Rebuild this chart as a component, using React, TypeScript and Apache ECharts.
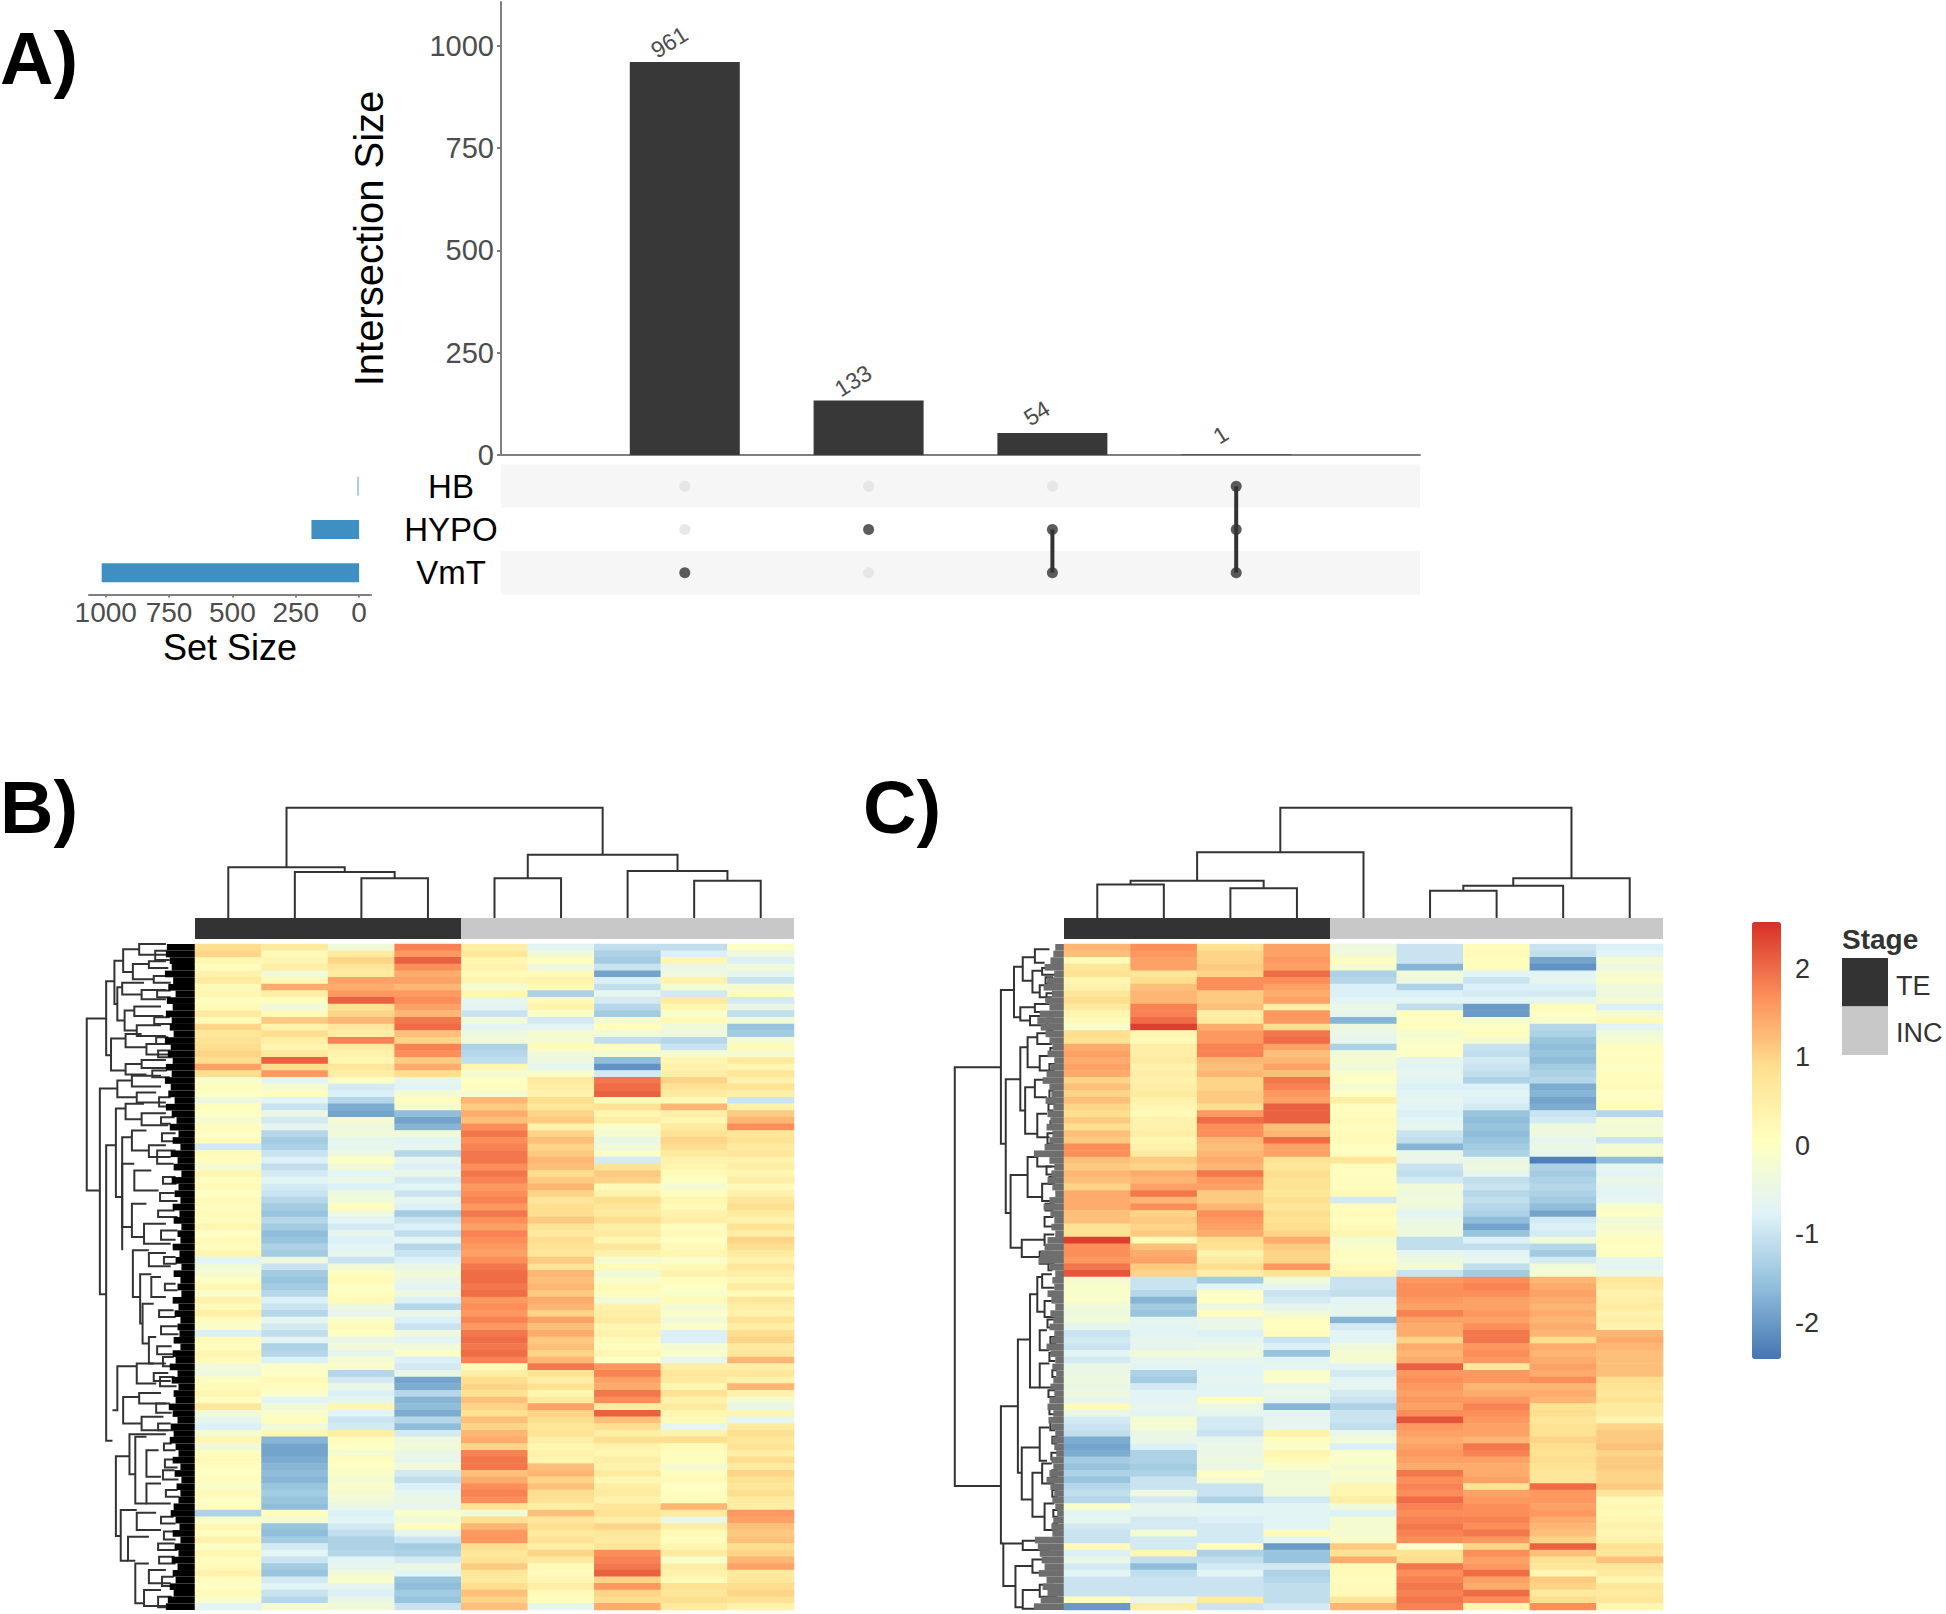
import React, { useEffect, useRef } from "react";
import * as echarts from "echarts";

const FONT = "'Liberation Sans', Arial, sans-serif";

// ---------- Panel A: intersections ----------
const intersectionPos = [1, 2, 3, 4];
const intersectionSizes = [961, 133, 54, 1];
const setNames = ["HB", "HYPO", "VmT"];
const setSizes = [1, 188, 1016];
const memberHB = [0, 0, 0, 1];
const memberHYPO = [0, 1, 1, 1];
const memberVmT = [1, 0, 1, 1];
const intersectionTicks = [0, 250, 500, 750, 1000];
const setTicks = [0, 250, 500, 750, 1000];

// ---------- Heatmap palette + legend ----------
const palette = ["#4575B4", "#91BFDB", "#E0F3F8", "#FFFFBF", "#FEE090", "#FC8D59", "#D73027"];
const colorTicks = [-2, -1, 0, 1, 2];
const stageNames = ["TE", "INC"];
const stageColors = ["#333333", "#c8c8c8"];
const stageCounts = [4, 5];

// ---------- Panel B columns (100 rows, top to bottom) ----------
const b0 = [.9,1,.3,.1,.4,.6,.2,.3,.1,.2,
.6,.2,1,.7,.8,.9,1,.9,1.5,.9,
-.1,.1,0,-.4,.1,0,-.2,.1,0,.2,
-.9,.2,.1,-.2,.3,.1,.2,0,.2,.1,
.2,.1,.3,0,.2,.1,.3,-.7,-.3,-.2,
0,.3,-.1,.4,.2,.5,.1,-.1,-.8,.2,
.1,.3,.2,-.3,-.4,.1,.2,.3,.1,.7,
-.3,-.6,-.8,-.2,.3,-.3,.1,.2,.1,0,
.1,-.1,.2,0,.1,-1.3,-.1,.3,.1,.4,
0,.3,.1,.2,.4,.1,0,.2,-.1,-.7];
const b1 = [.6,.2,.3,.5,-.3,.2,1.4,.5,.1,-.3,
.2,1.1,.4,.9,.5,.3,.6,2.1,.9,1.6,
-.7,-.2,.1,-.7,-1,-.5,-.9,-.6,-1.2,-1.4,
-1.3,-1,-.8,-1.1,-.9,-.7,-.9,-1,-1.2,-1.4,
-1.5,-1.2,-1.4,-1.6,-1.5,-1.3,-1.4,-.4,-1,-1.4,
-1.5,-1.4,-1.2,-.8,-1,-1.2,-.6,-.9,-1.1,-.7,
-1.3,-1.2,-.8,-.1,0,.2,.1,-.1,-.7,-.3,
-.1,.1,-.3,.3,-1.7,-1.9,-1.9,-1.8,-1.7,-1.6,
-1.7,-1.5,-1.4,-1.5,-1.6,.1,-.2,-1.5,-1.6,-1.4,
-.9,-.7,-1,-1.4,-1.5,-.9,-.7,-1,-1.2,-.2];
const b2 = [-.3,.6,1,.7,.6,1.5,1.4,1.6,2.1,.8,
1,1.3,.7,.5,1.8,.6,.4,.3,.7,.5,
0,-.9,-.8,-1.2,-1.8,-1.9,-.2,-.4,-.3,-.6,
-.6,-.4,0,-.3,-.7,-.5,-.8,-.4,-.3,.1,
-.4,-.7,-.9,-.6,-.8,-.7,-.6,-1,-.3,.1,
.2,0,.1,.2,-.4,-.6,-.1,.2,0,-.5,
-.3,-.6,-.2,-.1,-1.2,-.9,-.5,-.8,-.6,.3,
-.7,-1,-.9,.5,.1,0,-.2,.1,0,-.1,
-.2,-.1,-.2,-.3,-.5,-.8,-.7,-.9,-1.1,-1.3,
-1.3,-1.2,-.7,-.6,-.3,-.1,-.6,-.8,-.5,-.3];
const b3 = [1.8,1.6,2.1,1.7,1.4,1.5,1.3,1.6,1.7,1.5,
1.3,1.9,2,1.2,1,1.8,1.7,1.1,1.4,.9,
-.6,-.7,-.2,.1,-.2,-1.6,-1.9,-1.7,-.3,-.7,
-.6,-1.2,-.6,-.8,-.5,-.9,-.7,-1,-.6,-.8,
-1.4,-1,-.8,-1.1,-.7,-1.2,-1,-.8,-.5,-.3,
-.5,-.7,-.4,-.8,-1.2,-.5,-.8,-1,-.4,-.7,
-.3,-.1,-.8,-.9,-.5,-1.9,-1.8,-1.2,-1.7,-1.6,
-1.8,-1.2,-1.6,-.9,-.4,-.3,-.5,-.6,-.3,-.9,
-1.1,-.8,-.6,-.5,-.6,-.1,-.3,.1,-.6,-1,
-1.4,-1.3,-.9,-.5,-.7,-1.5,-1.6,-1.4,-1.5,-1];
const b4 = [.5,.7,.3,.4,.2,.3,-.2,.3,-.6,-.7,
-1,-.3,-.7,-.4,-.3,-1.3,-1.2,-1.1,.3,-.2,
0,.1,-.2,1.3,1.1,1.4,1.2,1.7,1.9,1.7,
1.8,1.9,1.9,1.7,1.9,1.8,1.6,1.7,1.8,1.6,
1.9,1.7,1.5,1.8,1.7,1.6,1.5,1.7,1.9,2,
2,1.9,2,1.6,1.7,1.6,1.8,1.6,1.9,2,
1.9,2,1.8,.2,.5,.9,1,.8,1.2,1,
.8,1.2,1,1.3,1.4,1,1.8,1.9,1.9,1.2,
1.4,1.7,1.8,1.7,.8,-.3,.9,1.3,1.6,1.6,
.9,.7,.8,1.1,.7,.6,.9,1.2,1,1.2];
const b5 = [-.7,-.3,.1,-.4,.2,.4,.2,-1.3,.2,.4,
-.1,-.9,-.7,-.2,-.2,.2,-.3,-.4,-.6,-.1,
.6,.5,.4,.9,.7,1,1.1,.4,1,1.2,
1,1.1,1.3,1.2,.9,1.1,1.3,1,.7,.9,
.9,1.1,.8,.6,.9,.8,.7,1.1,.8,1.3,
1.2,1.3,1.1,1.4,1.3,1,1.5,1.2,1.4,1.1,
1.2,1,1.3,1.9,.8,.5,.8,.3,.6,1.5,
1,.9,.7,.8,.5,.3,.4,.3,1.2,1.3,
1,1.2,.9,.8,.5,1.2,.7,.9,.6,.8,
.5,1,.6,.2,.1,.3,.5,.2,.1,-.6];
const b6 = [-1.1,-1.3,-1.4,-1,-1.9,-.8,-1.1,-.6,-.9,-1.2,
-1.4,-.2,.1,-.3,-1.1,.1,-.2,-1.6,-2.1,-.9,
1.9,2,2.1,.2,.8,.3,.5,-.1,-.2,-.5,
-.3,-.1,-.9,.8,1.1,1,.2,.4,.9,.7,
.6,.9,.5,.6,.3,.7,.4,-.2,.2,-.3,
-.1,.2,.1,-.3,.4,.5,.6,.3,.4,.2,
.1,.3,0,1.6,1.8,1.5,1.4,1.9,1.7,.6,
2.1,1.2,.9,.5,.9,.4,.3,.5,.4,.6,
.3,.5,.6,.4,.7,.8,.5,1,.7,.6,
.7,1.7,1.8,1.9,2.1,1,1.6,1,.9,1.4];
const b7 = [-1.1,-.8,.3,-.5,-.4,.4,-.2,-.9,.6,.3,
-.1,.2,-.3,-.4,-1.2,-1,-.2,.3,.4,.5,
1,.8,.6,.2,1.3,.5,.3,.6,.8,1,
.9,.6,.4,.3,.2,0,-.2,.1,.3,.2,
.4,.5,.1,.2,0,.2,.3,-.1,.2,.4,
.1,0,-.1,.2,-.2,-.1,-.3,-.1,-.8,-.8,
-.2,-.1,-.6,.5,.7,.6,.3,.8,.4,.6,
.3,.2,-.6,.4,.9,.2,.1,.1,-.2,.1,
.2,0,.1,.1,1.3,.6,-.5,.5,.2,.1,
.3,.6,-.1,.5,.4,.2,.8,.7,.9,.6];
const b8 = [0,-.4,-.8,-.3,-.6,-1,-.2,.1,-.9,-.5,
-1.1,-.3,-1.5,-1.4,-.2,.2,-.2,.6,.3,.7,
.4,.8,.5,-1,.4,1.1,1.3,1.7,.7,.8,
.6,.7,.4,.5,.3,.5,.2,.4,.7,.9,
.6,.4,.8,.5,1,.9,.6,.4,.7,.5,
.3,.6,.2,.7,.5,.4,.8,.5,.9,1,
.6,.7,1.3,.5,.7,.4,1.3,.4,-.2,-.5,
.3,-.6,.6,.9,.7,.8,.5,.9,.6,1,
.8,.7,.9,.6,.5,1.6,1.5,1.2,1.1,1.2,
.9,1,1.3,1.5,.6,.7,.9,1,.8,.4];

// ---------- Panel C columns (100 rows, top to bottom) ----------
const c0 = [1.3,1.2,.2,.7,.8,.3,.4,.7,.9,.6,
.3,.2,-.1,.9,.8,1.4,1.5,1.4,1.5,1.4,
1,1.2,1,1.2,1,.9,1.1,.9,1.2,1.1,
1.7,1.7,1.2,1.1,1.3,1.2,1,1.4,1.4,1.4,
1.2,1.2,.8,.8,2.4,1.7,1.7,1.6,1.9,2.2,
-.2,-.1,-.1,-.1,-.3,-.4,-.3,-.6,-1,-.9,
-1,-.7,-.9,-.5,-.5,-.4,-.5,-.4,-.6,.2,
-.5,-.9,-1,-1.1,-1.8,-1.9,-1.8,-1.4,-1.5,-1.3,
-1.5,-1.2,-1.1,-1.2,-.1,-.7,-.6,-.9,-1,-1,
.2,-.8,-.5,-.9,-.7,-1,-1,-1,.1,-2];
const c1 = [1.7,1.6,1.5,1.5,.7,.9,1.2,1.3,1.3,1.8,
1.8,2,2.4,.3,.2,.5,.5,.6,.4,.5,
.4,.5,.6,.4,.3,.2,.4,.4,.5,.3,
.4,.6,1.1,1,1.4,1.3,1.5,1.9,1.3,1.7,
1,1.1,1,1.1,.2,1.2,1.4,1.5,1.1,1,
-1,-1,-1.2,-1.7,-1.4,-1.5,-.6,-.7,-.7,-.6,
-.6,-.3,-.6,-.7,-1.3,-1.4,-.9,-.7,-.7,-.6,
-.7,-.2,-.2,-.5,-.5,-.8,-1.3,-1.3,-1.4,-1.3,
-1,-1,-.4,-.9,-.6,-.6,-.9,-.9,-.2,-.9,
-.9,.3,-1.1,-1.6,-1.1,-1,-1,-1,-.5,.5];
const c2 = [.8,1,1,1.1,1,1.7,1.7,1.1,1.1,1.2,
.5,.6,1.4,1.6,1.6,1.8,1.8,1.3,1.2,1.3,
1,1,1.1,1.1,.9,1.6,2,1.7,1.7,1.3,
1.2,1.3,1.4,1.3,1.9,1.6,1.5,1.1,1.1,1.3,
1.7,1.6,1.5,1.4,.9,.8,.4,.6,.9,.5,
-1.4,-.7,0,0,-.4,.1,-.5,-.5,-.8,-.6,
-.5,-.3,-.6,-.7,-.7,-.6,-.7,-.7,.1,-.5,
-.6,-.9,-.9,-1,-.6,-.5,-.5,-.4,-.5,0,
-.2,-1,-1,-1.3,-.7,-.7,-.8,-.9,-.9,-.9,
.1,-1.3,-1.1,-.9,-.7,-1,-1,-1,.6,-1];
const c3 = [1.5,1.5,1.6,1.5,2,1.7,1.5,1.4,1.5,.5,
1.6,1.6,.9,1.9,2,1.5,1.2,1.3,1.5,1.2,
1.9,1.8,1.6,1.5,2.1,2.1,2.1,1.2,1.3,2,
1.5,1.5,.8,.7,.9,.8,.8,.7,.9,.7,
.9,.8,.9,1,1.4,1.1,1,1,1.6,.8,
-.3,-.6,-1,-.9,-.6,-.3,.1,.1,.1,-1,
-.8,-1.5,-.7,-.6,-.1,-.1,-.6,-.5,-.6,-1.7,
-.6,-.6,-.6,.4,.1,-.1,.3,.2,-.1,-.3,
-.3,-.3,-.3,-.9,-.7,-.7,-.7,-.7,.2,-.6,
-2,-1.5,-1.5,-.9,-1.3,-1.2,-1.1,-1.1,-1.1,-.9];
const c4 = [-.4,-.3,.1,-.2,-1.3,-1.2,-.8,-.8,-.7,-.5,
-.6,-1.7,-.4,-.5,-.6,-1.3,-.3,-.2,-.3,-.1,
0,-.2,0,.5,.1,.1,.2,.1,.2,.2,
.1,.1,.7,.1,.1,.1,.1,.2,-.9,.1,
.2,.1,.2,.3,-.2,-.1,.1,0,.2,.3,
-1,-1,-1.1,-.7,-.6,-.6,-1.7,-.9,-.7,-.7,
-.4,-.2,-.2,-.7,-.9,-.7,-.6,-.9,-1,-1.3,
-1,-1,-1.1,-.5,-.3,-.8,-.1,-.1,-.2,-.1,
-.2,.3,.3,.5,-.3,-.8,-.2,-.2,-.2,-.1,
1.1,.8,1.4,.2,.2,.1,.2,.2,.7,1.3];
const c5 = [-1,-1,-1,-1.7,-.3,-.4,-1.3,-.8,-.7,-1.1,
.1,0,.1,-.2,-.1,0,0,-.6,-.7,-.6,
-.7,-.8,-.7,-.6,-.7,-.8,-.7,-.6,-1,-1.1,
-1.7,-.5,-.5,-1,-1.1,-.9,-.3,-.4,-.3,-.4,
-.7,-.5,-.4,-.4,-1.1,-1.1,-.6,-.4,-.3,-1,
1.6,1.7,1.7,1.6,1.5,1.8,1.5,1.4,1.4,1,
1.4,1.3,1.4,2.1,1.6,1.7,1.6,1.5,1.6,1.5,
1.7,2.2,1.6,1.5,1.4,1.5,1.6,1.5,1.4,1.9,
1.7,1.8,1.7,2,1.8,1.7,1.8,1.9,1.8,1.7,
-.1,.8,.9,1.9,1.7,1.8,1.9,1.8,1.9,1.8];
const c6 = [.1,.2,.1,.1,-.7,-1,-.8,-.9,-.7,-2,
-2,-.2,0,.1,-.2,-1,-1.1,-.9,-1,-1.1,
-1.3,-.8,-.7,-.8,-.9,-1.5,-1.6,-1.5,-1.6,-1.5,
-1.4,-1.3,-.5,-.4,-.6,-1.1,-1,-1.2,-1.1,-1.2,
-1.3,-1.6,-1.9,-1.5,-.8,-1.1,-.7,-.6,-1.1,-1.4,
1.7,1.8,1.7,1.5,1.5,1.6,1.5,1.7,1.9,1.9,
1.6,1.7,1.6,.7,1.6,1.6,1.3,1.4,1.6,1.8,
1.7,1.6,1.5,1.5,1.3,1.9,1.8,1.5,1.4,1.4,
1.5,.8,1.5,1.6,1.7,1.7,1.8,1.7,1.9,1.6,
1,1.7,1.5,1.6,2,1.5,1.4,2,1.7,.3];
const c7 = [-1,-1.1,-1.9,-2.1,-.7,-.6,-.8,-.9,-.6,.1,
0,-.1,-1.2,-1.3,-1.5,-1.6,-1.5,-1.6,-1.4,-1.3,
-1.2,-1.8,-1.7,-1.9,-1.8,-1,-.9,-.4,-.4,-.6,
-.5,-.6,-2.3,-1.3,-1.4,-1.3,-1.2,-1.3,-1.4,-1.6,
-1.9,-.9,-.8,-.9,-.3,-1.2,-1.4,-.9,-.3,-.2,
1.3,1.4,1.5,1.4,1.3,1.4,1.3,1.4,1.3,.9,
1.4,1.3,1.4,1.5,1.4,1.7,1.3,1.4,1.3,.8,
.9,.7,.8,.8,1,.9,.8,.9,.8,.7,
.7,2,1.6,1.6,1.5,1.6,1.4,1.3,1.2,1,
2.1,1.2,.8,.7,.3,1.1,1,.6,.9,1.7];
const c8 = [-.8,-.7,-.2,-.4,-.2,-.1,-.3,-.4,-.2,-.8,
-.2,.2,-.7,-.3,-.2,.1,.1,.1,0,.1,
.1,.2,0,.1,.1,-1.2,-.2,-.3,-.2,-1,
-.2,-.2,-1.6,-.6,-.7,-.5,-.6,-.7,-.6,-.1,
0,-.3,-.2,-.1,.1,0,.1,-.6,-.7,-.5,
.7,.6,.4,.5,.6,.4,.5,.4,1.3,1.4,
1.3,1.2,1.2,1.2,1.2,.9,.8,.7,.8,.6,
.6,.3,1,1.1,1.1,1.2,1,1.1,1.1,1,
1,1.1,.7,.2,.3,.2,.3,.4,.3,.4,
.8,.7,1.2,.7,.6,.3,.7,.6,.7,.3];

// ---------- Dendrograms: [posA, posB, mergeHeight, heightA, heightB] ----------
const bColTree = [[2.5,3.5,32,0,0],[1.5,3,37,0,32],[.5,2.25,41,0,37],[4.5,5.5,32,0,0],[7.5,8.5,30,0,0],[6.5,8,38,0,30],[5,7.25,51,32,38],[1.375,6.125,89,41,51]];
const cColTree = [[.5,1.5,27,0,0],[2.5,3.5,24,0,0],[1,3,30,27,24],[2,4.5,53,30,0],[5.5,6.5,22,0,0],[6,7.5,26,22,0],[6.75,8.5,32,26,0],[3.25,7.625,89,53,32]];
const bRowTree = [[11.2,37,223,183,196],[5.6,16.7,183,166,173],[2.5,9,166,148,160],[.8,4.2,148,115,128],[0,1.6,115,60,60],[3,5.3,128,95,85],[2.6,3.6,95,60,55],[4.8,5.8,85,60,50],
[6.5,11.5,160,150,145],[5.8,7.6,150,105,110],[6.9,8.3,110,60,60],[10,13,145,125,120],[9.4,10.8,125,70,65],[12.2,13.8,120,70,60],
[14.2,19,173,143,143],[13.5,15.5,143,110,100],[15,16.6,100,65,50],[18,19.6,143,110,100],[17.4,18.6,110,60,50],
[21.7,52.6,196,160,183],[20.5,23,160,130,120],[19.8,21.4,130,70,70],[22.3,23.8,120,80,60],
[30.2,74.6,183,163,170],[24.7,38,163,143,150],[24,26.3,143,105,110],[25.4,27.2,110,60,55],[29,46,150,130,150],[28,31,130,100,95],[30.2,32,95,60,50],[33,42.5,150,125,130],[34,37,125,90,75],[39,44,130,100,105],[42,45,105,60,50],
[46,53,128,95,113],[46.4,48.4,95,60,50],[49.6,57,113,90,108],[50,53,90,70,60],[54,60,108,85,95],[59,63,95,80,60],
[63.4,70,160,120,170],[63,66,120,85,80],[64.4,65.6,85,55,50],[68,72,148,115,110],[67.4,69,115,70,60],[71,73,110,65,55],
[73.6,79.6,135,60,123],[74,84,123,100,100],[76,80,100,75,70],[81,84,100,70,50],
[76.9,88.9,163,135,153],[85,92.6,153,120,138],[85.4,88,120,80,70],[89,92.6,138,95,123],[93,99,123,95,105],[94,96,95,60,50],[97,99.4,105,70,60],
// finer twigs just outside the leaf block
[1,2.4,82,58,52],[7,8,78,50,50],[11,12,84,52,44],[14,15,80,55,48],[16,17,76,50,46],[19,20,88,58,52],[23,24.4,74,50,44],[26,27,70,42,50],[28.4,29.6,68,40,42],[31,33,78,40,44],
[35,36,66,40,38],[37.4,38.6,72,42,36],[40,41,76,42,36],[43,44.4,70,36,40],[47,48,64,40,38],[51,52,62,40,36],[55,56,74,44,40],[57.4,58.6,70,36,34],[60.4,61.6,78,48,42],[62,63.4,66,44,50],
[65,66.4,72,42,38],[69,70.4,80,52,48],[72,73,76,50,42],[75,76,64,48,40],[77.4,78.6,62,38,36],[79,80.4,66,42,34],[82,83,60,36,32],[86,87,70,44,40],[88.2,89.4,64,36,40],[90,91,76,42,36],[92,93,74,42,40],[95,96.4,68,44,38],[98,99.6,76,48,52]];
const cRowTree = [[18.5,81.4,225,130,130],[6.9,30,130,103,120],[3.4,11,103,85,90],[2,5.5,85,60,65],[.8,2.8,60,30,40],[4,7.3,65,45,50],[3.6,4.6,45,15,15],[6.2,8,50,30,25],
[9.5,11.5,90,60,70],[9,10.2,60,30,30],[10.8,12.2,70,40,30],
[20.3,40.4,120,90,110],[15.5,25,90,75,80],[14,18.5,75,55,50],[13.4,15,55,30,25],[16.8,19,50,30,20],[21.5,28.5,80,60,55],[20.4,23,60,40,35],[25.5,29,55,35,30],
[34.7,45.6,110,75,87],[32,38,75,55,45],[31.4,33.4,55,30,25],[36,38.6,45,25,20],[44.4,47,87,40,50],[43.6,45.2,40,20,15],[46.2,48,50,25,20],
[69.4,90,130,95,125],[59.4,79.4,95,70,87],[52.6,66.6,70,55,50],[50,55.2,55,45,40],[49.6,51.6,45,25,20],[53.6,56,40,25,20],[58,61,50,35,30],[63,66.6,50,30,25],[75.6,83.4,87,50,65],[72.6,77.6,50,30,35],[79.4,86,65,45,40],[78,81,45,25,20],[84,88,40,20,20],
[90,96.4,125,85,100],[89.6,91,85,30,30],[93.4,99.6,100,65,85],[92.4,94.4,65,35,30],[97,99.8,85,50,40],[96.2,98,50,20,15],
// finer twigs just outside the leaf block
[5,6,38,22,20],[7.4,8.6,36,18,20],[11.2,13,34,20,22],[15.6,16.6,28,16,18],[18,19.4,30,18,20],[22,23.2,30,20,16],[24,25,32,18,22],[26.6,27.6,28,18,16],[28.4,30,34,20,22],
[33.4,34.6,36,18,20],[35,36,30,16,18],[39,40,38,20,22],[41,42.4,40,22,20],[47.6,49,32,20,24],[56.4,57.6,34,18,16],[59,60,28,14,16],[61.4,62.6,30,16,18],[64,65,24,14,16],[67,68,32,18,16],
[69.4,70.6,30,16,18],[71.4,73,28,14,18],[74,75,24,12,14],[76.4,77.4,26,14,14],[79,80,24,12,14],[82,83,24,14,12],[85,86,22,12,12],[87,88,22,12,12]];

// Width of the solid leaf block beside each heatmap row
const bLeaves = [58,60,52,48,62,45,55,40,58,46,60,48,52,44,62,50,56,46,60,48,
62,50,55,42,60,48,38,52,34,46,30,50,36,44,28,48,34,42,30,46,
32,44,28,36,30,46,32,40,28,44,30,36,28,46,34,42,30,36,32,44,
30,46,40,52,36,48,34,44,40,54,46,36,50,44,52,40,34,46,30,42,
28,38,30,34,44,50,40,32,46,30,42,34,48,36,46,40,52,44,56,60];
const cLeaves = [18,22,28,40,20,35,42,25,38,30,50,55,48,38,30,24,34,20,28,36,
44,30,26,38,22,34,28,36,24,30,40,62,30,20,26,34,24,18,30,42,
28,20,26,18,34,40,48,52,30,18,24,20,34,26,18,28,22,30,20,26,
36,28,18,24,16,22,28,20,30,34,22,32,26,18,24,20,16,26,22,30,
36,28,20,24,18,14,22,26,24,60,54,50,46,40,52,36,44,34,48,62];

const pairs = <T,>(a: T[], b: number[]) => a.map((v, i) => [v, b[i]]);

export default function App() {
  const ref = useRef<HTMLDivElement>(null);
  useEffect(() => {
    const chart = echarts.init(ref.current!, null, { renderer: "svg" });
    const grid: any[] = [];
    const xAxis: any[] = [];
    const yAxis: any[] = [];
    const series: any[] = [];
    const hidden = { show: false };
    const addGrid = (left: number, top: number, width: number, height: number, x: any, y: any) => {
      const i = grid.length;
      grid.push({ left, top, width, height });
      xAxis.push({ gridIndex: i, ...x });
      yAxis.push({ gridIndex: i, ...y });
      return i;
    };
    const plain = (v: number) => String(v);
    const tickStyle = { fontFamily: FONT, fontSize: 29, color: "#4d4d4d", formatter: plain };
    const axisGrey = { lineStyle: { color: "#7f7f7f", width: 2 } };

    // Intersection bars
    const g0 = addGrid(501, 2, 919, 453,
      { type: "value", min: 0, max: 5, axisLine: { show: true, onZero: false, ...axisGrey }, axisTick: hidden, axisLabel: hidden, splitLine: hidden },
      { type: "value", min: 0, max: 1107.5, name: "Intersection Size", nameLocation: "middle", nameGap: 112, nameRotate: 90,
        nameTextStyle: { fontFamily: FONT, fontSize: 40, color: "#000", padding: [0, 20, 0, 0] },
        axisLine: { show: true, onZero: false, ...axisGrey },
        axisTick: { show: true, length: 4, customValues: intersectionTicks, ...axisGrey },
        axisLabel: { ...tickStyle, margin: 7, customValues: intersectionTicks }, splitLine: hidden });
    series.push({ type: "bar", xAxisIndex: g0, yAxisIndex: g0, barWidth: 110, data: pairs(intersectionPos, intersectionSizes),
      itemStyle: { color: "#383838" },
      label: { show: true, position: "top", distance: 10, rotate: 32, offset: [-8, -5], fontFamily: FONT, fontSize: 23, color: "#4d4d4d", formatter: (p: any) => String(p.value[1]) } });

    // Membership matrix
    const g1 = addGrid(501, 464.5, 919, 130,
      { type: "value", min: 0, max: 5, show: false },
      { type: "category", data: setNames, inverse: true, axisLine: hidden, axisTick: hidden,
        axisLabel: { fontFamily: FONT, fontSize: 33, color: "#000", align: "center", margin: 50 },
        splitArea: { show: true, areaStyle: { color: ["#f6f6f6", "#ffffff"] } } });
    const memberRows = [memberHB, memberHYPO, memberVmT];
    const dots = (flag: number) => memberRows.flatMap((row, r) =>
      row.flatMap((m, c) => (m === flag ? [[intersectionPos[c], setNames[r]]] : [])));
    series.push({ type: "scatter", xAxisIndex: g1, yAxisIndex: g1, symbolSize: 11, data: dots(0), itemStyle: { color: "#e2e2e2" } });
    intersectionPos.forEach((pos, c) => {
      const on = memberRows.flatMap((row, r) => (row[c] ? [[pos, setNames[r]]] : []));
      if (on.length > 1) series.push({ type: "line", xAxisIndex: g1, yAxisIndex: g1, data: [on[0], on[on.length - 1]], symbol: "none", lineStyle: { color: "#333", width: 4 } });
    });
    series.push({ type: "scatter", xAxisIndex: g1, yAxisIndex: g1, symbolSize: 11, data: dots(1), itemStyle: { color: "#333" }, z: 5 });

    // Set size
    const g2 = addGrid(89, 464.5, 282, 130,
      { type: "value", inverse: true, min: -47, max: 1066, name: "Set Size", nameLocation: "middle", nameGap: 35,
        nameTextStyle: { fontFamily: FONT, fontSize: 36, color: "#000" },
        axisLine: { show: true, onZero: false, ...axisGrey }, axisTick: { show: true, length: 3, customValues: setTicks, ...axisGrey },
        axisLabel: { ...tickStyle, fontSize: 28, margin: 4, customValues: setTicks }, splitLine: hidden },
      { type: "category", data: setNames, inverse: true, show: false });
    series.push({ type: "bar", xAxisIndex: g2, yAxisIndex: g2, barWidth: 19, barMinHeight: 2, data: setSizes,
      itemStyle: { color: (p: any) => (p.dataIndex === 0 ? "#a9cfe6" : "#408fc2") } });

    // Heatmap panel
    const lineItem = (rowWise: boolean) => (_: any, api: any) => {
      const [a, b, h, ha, hb] = [0, 1, 2, 3, 4].map((k) => api.value(k));
      const raw = [[a, ha], [a, h], [b, h], [b, hb]];
      const points = raw.map(([p, q]) => api.coord(rowWise ? [q, p] : [p, q]));
      return { type: "polyline", shape: { points }, style: { stroke: "#333", lineWidth: 2, fill: "none" } };
    };
    const leafItem = (color: string) => (_: any, api: any) => {
      const r = api.value(0);
      const p0 = api.coord([api.value(1), r]);
      const p1 = api.coord([0, r + 1]);
      return { type: "rect", shape: { x: p0[0], y: p0[1], width: p1[0] - p0[0], height: p1[1] - p0[1] }, style: { fill: color } };
    };
    const heatIdx: number[] = [];
    const rowIds = bLeaves.map((_, i) => String(i));
    const colIds = ["1", "2", "3", "4", "5", "6", "7", "8", "9"];
    const panel = (left: number, cols: number[][], colTree: number[][], rowTree: number[][], leaves: number[], leafColor: string) => {
      const top = 944, h = 666, w = 599;
      const dc = addGrid(left, 794, w, 124, { type: "value", min: 0, max: 9, show: false }, { type: "value", min: 0, max: 100, show: false });
      series.push({ type: "custom", xAxisIndex: dc, yAxisIndex: dc, silent: true, renderItem: lineItem(false), encode: { x: 0, y: 2 }, data: colTree });
      const an = addGrid(left, 918, w, 21, { type: "value", min: 0, max: 9, show: false }, { type: "category", data: ["Stage"], show: false });
      stageNames.forEach((name, i) => series.push({ type: "bar", name, xAxisIndex: an, yAxisIndex: an, stack: "stage" + left, barWidth: "100%", data: [stageCounts[i]], itemStyle: { color: stageColors[i] } }));
      const dr = addGrid(left - 116.5, top, 116.5, h, { type: "value", inverse: true, min: 0, max: 240, show: false }, { type: "value", inverse: true, min: 0, max: 100, show: false });
      series.push({ type: "custom", xAxisIndex: dr, yAxisIndex: dr, silent: true, renderItem: lineItem(true), encode: { x: 2, y: 0 }, data: rowTree });
      series.push({ type: "custom", xAxisIndex: dr, yAxisIndex: dr, silent: true, renderItem: leafItem(leafColor), encode: { x: 1, y: 0 }, data: leaves.map((v, i) => [i, v]) });
      const hm = addGrid(left, top, w, h, { type: "category", data: colIds, show: false }, { type: "category", data: rowIds, inverse: true, show: false });
      heatIdx.push(series.length);
      series.push({ type: "heatmap", xAxisIndex: hm, yAxisIndex: hm, silent: true,
        data: cols.flatMap((col, c) => col.map((v, r) => [c, r, v])) });
    };
    panel(195, [b0, b1, b2, b3, b4, b5, b6, b7, b8], bColTree, bRowTree, bLeaves, "#000000");
    panel(1064, [c0, c1, c2, c3, c4, c5, c6, c7, c8], cColTree, cRowTree, cLeaves, "#6e6e6e");

    // Colour bar axis
    addGrid(1752, 922, 29, 437, { type: "value", show: false, min: 0, max: 1 },
      { type: "value", min: -2.41, max: 2.53, position: "right", axisLine: hidden, axisTick: hidden, splitLine: hidden,
        axisLabel: { fontFamily: FONT, fontSize: 27, color: "#333", margin: 14, customValues: colorTicks } });

    const letter = (text: string, x: number, y: number) => ({ type: "text", x, y, style: { text, font: `bold 74px ${FONT}`, fill: "#000", verticalAlign: "middle" } });
    const graphic = [
      letter("A)", 0, 58), letter("B)", 0, 807), letter("C)", 863, 807),
      { type: "text", x: 1842, y: 939, style: { text: "Stage", font: `bold 28px ${FONT}`, fill: "#333", verticalAlign: "middle" } },
      ...stageNames.flatMap((name, i) => [
        { type: "rect", shape: { x: 1842, y: 958 + 48.5 * i, width: 46, height: 48.5 }, style: { fill: stageColors[i] } },
        { type: "text", x: 1896, y: 986 + 47 * i, style: { text: name, font: `27px ${FONT}`, fill: "#333", verticalAlign: "middle" } },
      ]),
    ];

    chart.setOption({
      animation: false,
      backgroundColor: "#fff",
      grid, xAxis, yAxis, series, graphic,
      visualMap: { type: "continuous", min: -2.41, max: 2.53, seriesIndex: heatIdx, left: 1752, top: 922, itemWidth: 29, itemHeight: 437,
        padding: 0, showLabel: false, calculable: false, hoverLink: false, text: null, inRange: { color: palette } },
    });
    return () => chart.dispose();
  }, []);
  return <div ref={ref} style={{ position: "absolute", left: 0, top: 0, width: 1946, height: 1614 }} />;
}
